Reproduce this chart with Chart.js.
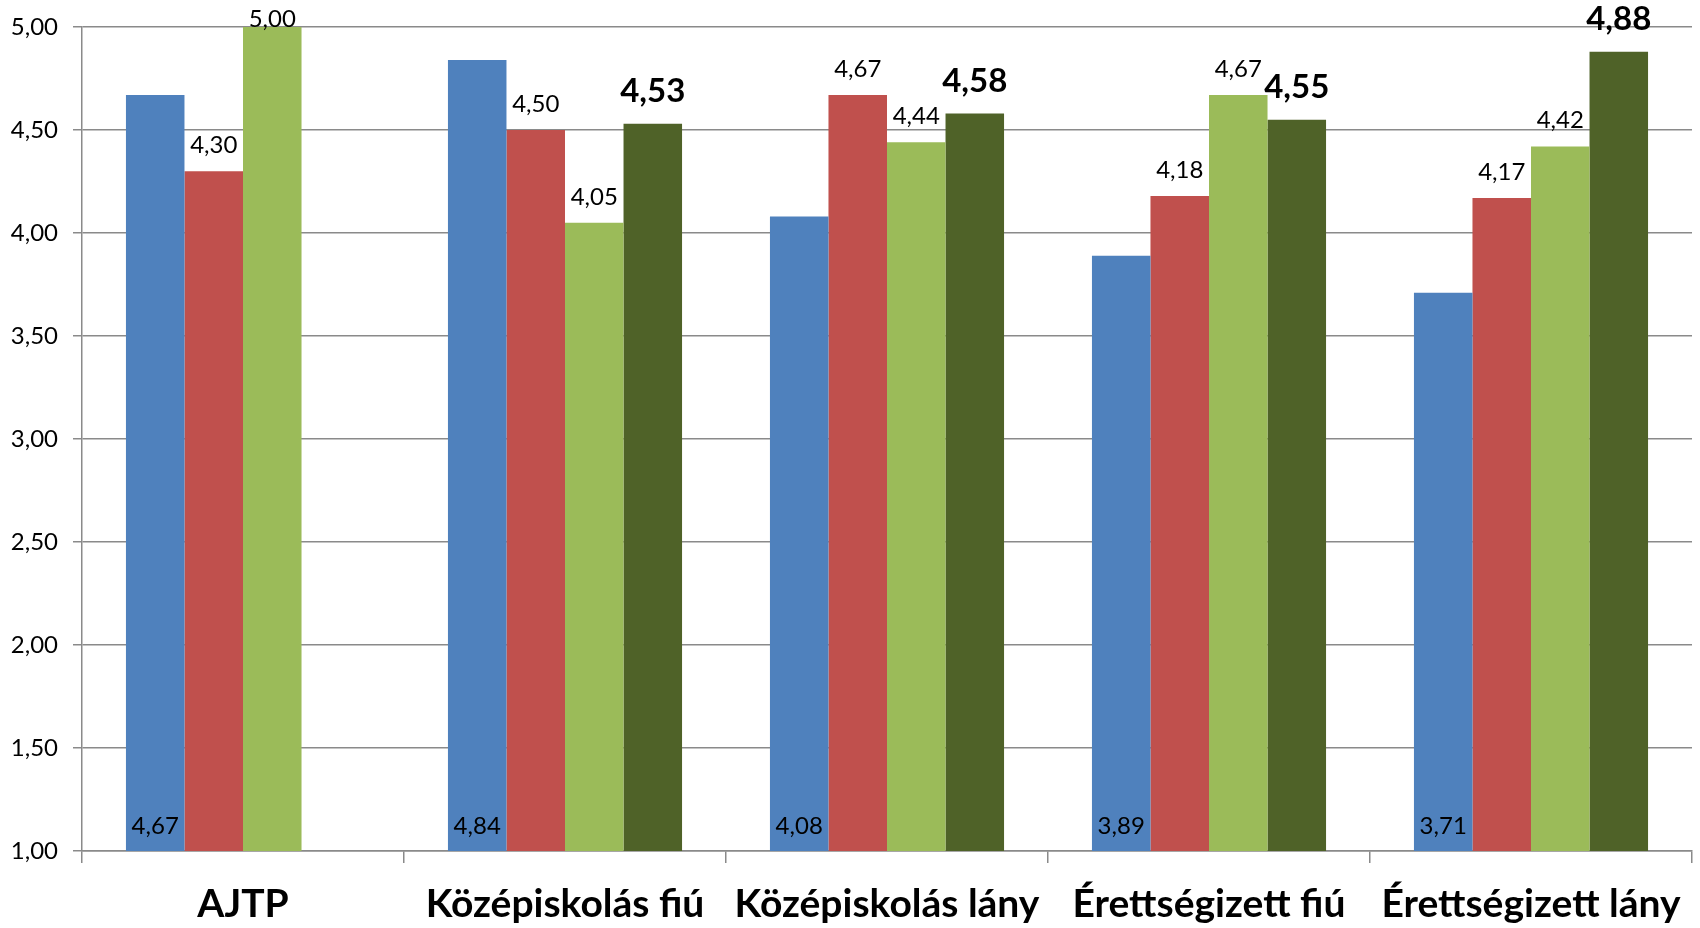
<!DOCTYPE html>
<html>
<head>
<meta charset="utf-8">
<script src="https://cdn.jsdelivr.net/npm/chart.js@4/dist/chart.umd.min.js"></script>
<style>
  html, body { margin: 0; padding: 0; background: #fff; }
  #wrap { width: 1700px; height: 928px; position: relative; }
</style>
</head>
<body>
<div id="wrap"><canvas id="chart"></canvas></div>
<script>
// Group averages on a 1–5 scale; AJTP has no fourth (dark green) bar.
const categories = ['AJTP', 'Középiskolás fiú', 'Középiskolás lány', 'Érettségizett fiú', 'Érettségizett lány'];
const seriesBlue = [4.67, 4.84, 4.08, 3.89, 3.71];
const seriesRed = [4.30, 4.50, 4.67, 4.18, 4.17];
const seriesGreen = [5.00, 4.05, 4.44, 4.67, 4.42];
const seriesDarkGreen = [null, 4.53, 4.58, 4.55, 4.88];
const yTicks = { min: 1, max: 5, step: 0.5 };

const GRID = '#8a8a8a';
const FONT = 'Lato, "Open Sans", sans-serif';

const fmt = (v) => v.toFixed(2).replace('.', ',');

// Value labels, placed the way the spreadsheet had them: blue inside at the
// base, the rest above the bar top, the dark green ones larger and bold.
// The bar's own `base` sits at value 0 (off-canvas since min is 1), so the
// inside labels use the y scale's bottom instead.
const valueLabels = {
  id: 'valueLabels',
  afterDatasetsDraw(chart) {
    const { ctx, chartArea } = chart;
    const baseY = chart.scales.y.getPixelForValue(yTicks.min);
    ctx.save();
    ctx.fillStyle = '#000';
    ctx.textAlign = 'center';
    ctx.textBaseline = 'alphabetic';
    chart.data.datasets.forEach((ds, di) => {
      const meta = chart.getDatasetMeta(di);
      meta.data.forEach((bar, i) => {
        const v = ds.data[i];
        if (v == null) return;
        const pos = ds.labelPos;
        ctx.font = pos === 'bold' ? `bold 33px ${FONT}` : `24px ${FONT}`;
        let y;
        if (pos === 'base') y = baseY - 17;
        else y = Math.max(bar.y - (pos === 'bold' ? 22 : 18), chartArea.top);
        ctx.fillText(fmt(v), bar.x, y);
      });
    });
    ctx.restore();
  },
};

const makeSet = (data, color, labelPos) => ({
  data,
  backgroundColor: color,
  borderWidth: 0,
  barPercentage: 1,
  categoryPercentage: 0.727,
  labelPos,
});

new Chart(document.getElementById('chart').getContext('2d'), {
  type: 'bar',
  data: {
    labels: categories,
    datasets: [
      makeSet(seriesBlue, '#4F81BD', 'base'),
      makeSet(seriesRed, '#C0504D', 'top'),
      makeSet(seriesGreen, '#9BBB59', 'top'),
      makeSet(seriesDarkGreen, '#4F6228', 'bold'),
    ],
  },
  options: {
    responsive: true,
    maintainAspectRatio: false,
    animation: false,
    layout: { padding: { top: 27, right: 8, left: 0, bottom: 0 } },
    scales: {
      x: {
        offset: true,
        grid: { display: true, drawOnChartArea: false, offset: true, color: GRID, lineWidth: 1.5, tickLength: 12 },
        border: { color: GRID, width: 1.5 },
        ticks: { color: '#000', padding: 18, font: { family: FONT, size: 39, weight: 'bold' }, maxRotation: 0, autoSkip: false },
        afterFit: (scale) => { scale.height = 77; },
      },
      y: {
        min: yTicks.min,
        max: yTicks.max,
        grid: { color: GRID, lineWidth: 1.5, tickLength: 9 },
        border: { color: GRID, width: 1.5 },
        ticks: { stepSize: yTicks.step, color: '#000', padding: 15, font: { family: FONT, size: 24 }, callback: (v) => fmt(v) },
        // fixed gutter; drop the half-label padding so the top stays at 27px
        afterFit: (scale) => {
          scale.width = 82;
          scale.paddingTop = 0;
          scale.paddingBottom = 0;
        },
      },
    },
    plugins: {
      legend: { display: false },
      tooltip: { enabled: false },
    },
  },
  plugins: [valueLabels],
});
</script>
</body>
</html>
